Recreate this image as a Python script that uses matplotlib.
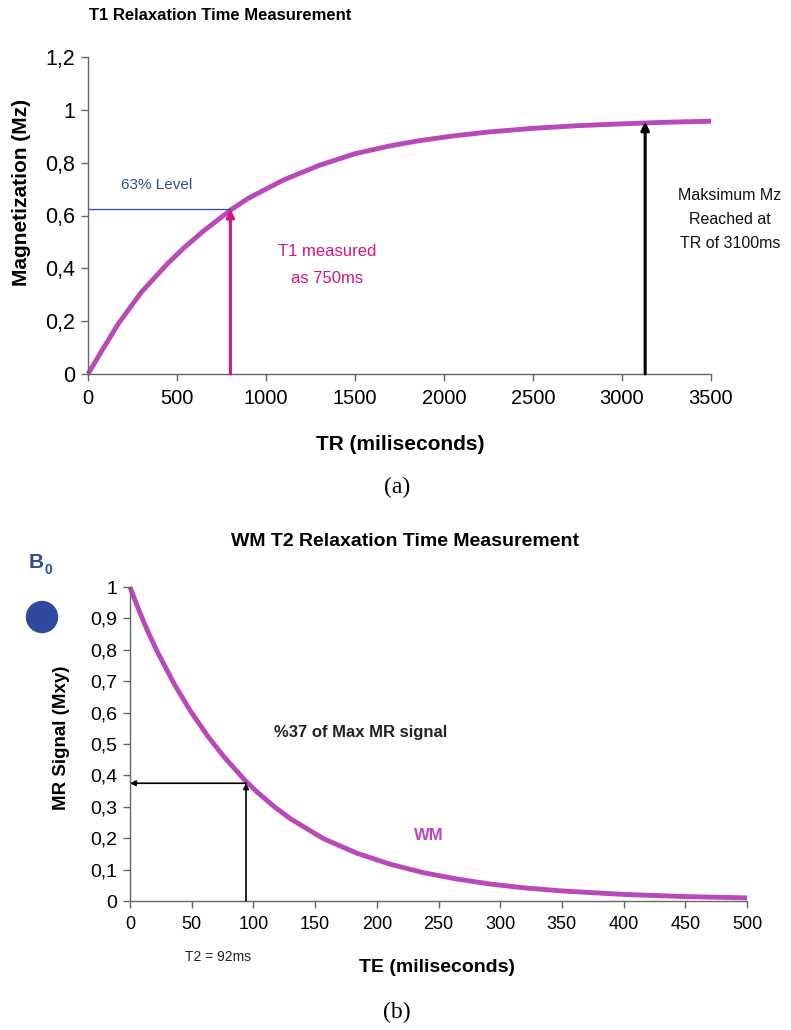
import matplotlib
matplotlib.use("Agg")
import matplotlib.pyplot as plt
from matplotlib.patches import Ellipse
from matplotlib.ticker import FuncFormatter, MultipleLocator

# T1 recovery curve
tr_ms = [0, 75, 170, 300, 450, 540, 650, 800, 900, 1100, 1300, 1500, 1700,
         1850, 2050, 2250, 2500, 2750, 3000, 3250, 3500]
mz = [0.0, 0.085, 0.19, 0.31, 0.42, 0.478, 0.542, 0.62, 0.665, 0.735, 0.79,
      0.834, 0.864, 0.882, 0.901, 0.916, 0.93, 0.94, 0.947, 0.953, 0.957]
t1_level = 0.625
t1_x = 800
max_x = 3130
max_y = 0.955

# T2 decay curve
te_ms = [0, 5, 11, 16, 22, 36, 49, 63, 76, 93, 103, 117, 130, 157, 184, 211,
         238, 265, 292, 319, 350, 400, 450, 500]
mxy = [1.0, 0.948, 0.89, 0.845, 0.795, 0.69, 0.605, 0.525, 0.46, 0.385, 0.347,
       0.30, 0.262, 0.198, 0.152, 0.117, 0.09, 0.07, 0.054, 0.042, 0.032,
       0.021, 0.014, 0.01]
t2_x = 94
t2_level = 0.375

W, H = 791, 1030
curve_c = '#b948b9'
pink = '#d4157f'
blue = '#2f4a9c'
spine_c = '#666666'
sans = ['Liberation Sans', 'DejaVu Sans']
plt.rcParams['font.family'] = sans


def px(x, y):
    return x / W, 1 - y / H


def comma(v, pos):
    return ('%g' % round(v, 2)).replace('.', ',')


def style(ax, xsize, ysize):
    for s in ('top', 'right'):
        ax.spines[s].set_visible(False)
    for s in ('left', 'bottom'):
        ax.spines[s].set_color(spine_c)
        ax.spines[s].set_linewidth(1.0)
    ax.tick_params(direction='out', length=5, width=1, color=spine_c)
    ax.tick_params(axis='x', labelsize=xsize, pad=6)
    ax.tick_params(axis='y', labelsize=ysize, pad=4)
    ax.yaxis.set_major_formatter(FuncFormatter(comma))


fig = plt.figure(figsize=(W / 100, H / 100), dpi=100)

# ---- panel (a)
ax1 = fig.add_axes([88 / W, 1 - 374 / H, 623 / W, 317 / H])
ax1.plot(tr_ms, mz, color=curve_c, lw=3.5, clip_on=False,
         solid_capstyle='butt', solid_joinstyle='round')
ax1.plot([0, t1_x], [t1_level, t1_level], color=blue, lw=0.9)
ax1.annotate('', xy=(t1_x, t1_level), xytext=(t1_x, 0),
             arrowprops=dict(arrowstyle='-|>', color=pink, lw=2.2,
                             mutation_scale=12, shrinkA=0, shrinkB=0))
ax1.annotate('', xy=(max_x, max_y), xytext=(max_x, 0),
             arrowprops=dict(arrowstyle='-|>', color='black', lw=2.2,
                             mutation_scale=12, shrinkA=0, shrinkB=0))
ax1.set_xlim(0, 3500)
ax1.set_ylim(0, 1.2)
ax1.xaxis.set_major_locator(MultipleLocator(500))
ax1.yaxis.set_major_locator(MultipleLocator(0.2))
style(ax1, 14.5, 15.5)

fig.text(*px(220, 16), 'T1 Relaxation Time Measurement', ha='center',
         va='center', fontsize=12, fontweight='bold')
fig.text(*px(22, 192), 'Magnetization (Mz)', rotation=90, ha='center',
         va='center', fontsize=15, fontweight='bold')
fig.text(*px(400, 444), 'TR (miliseconds)', ha='center', va='center',
         fontsize=15, fontweight='bold')
fig.text(*px(157, 185), '63% Level', ha='center', va='center', fontsize=11,
         color=blue)
fig.text(*px(327, 265), 'T1 measured\nas 750ms', ha='center', va='center',
         fontsize=12, color=pink, linespacing=2.0)
fig.text(*px(730, 220), 'Maksimum Mz\nReached at\nTR of 3100ms', ha='center',
         va='center', fontsize=11.5, color='#111111', linespacing=1.75)
fig.text(*px(397, 487), '(a)', ha='center', va='center', fontsize=17,
         family=['Liberation Serif', 'DejaVu Serif'])

# ---- panel (b)
ax2 = fig.add_axes([130 / W, 1 - 901 / H, 617 / W, 314 / H])
ax2.plot(te_ms, mxy, color=curve_c, lw=3.5, clip_on=False,
         solid_capstyle='butt', solid_joinstyle='round')
ax2.annotate('', xy=(t2_x, t2_level), xytext=(t2_x, 0),
             arrowprops=dict(arrowstyle='-|>', color='black', lw=1.2,
                             mutation_scale=8, shrinkA=0, shrinkB=0))
ax2.annotate('', xy=(0, t2_level), xytext=(t2_x, t2_level),
             arrowprops=dict(arrowstyle='-|>', color='black', lw=1.2,
                             mutation_scale=8, shrinkA=0, shrinkB=0))
ax2.set_xlim(0, 500)
ax2.set_ylim(0, 1)
ax2.xaxis.set_major_locator(MultipleLocator(50))
ax2.yaxis.set_major_locator(MultipleLocator(0.1))
style(ax2, 13, 14)

fig.text(*px(405, 541), 'WM T2 Relaxation Time Measurement', ha='center',
         va='center', fontsize=14, fontweight='bold')
fig.text(*px(62, 738), 'MR Signal (Mxy)', rotation=90, ha='center',
         va='center', fontsize=13.5, fontweight='bold')
fig.text(*px(437, 967), 'TE (miliseconds)', ha='center', va='center',
         fontsize=14, fontweight='bold')
fig.text(*px(361, 733), '%37 of Max MR signal', ha='center', va='center',
         fontsize=12, fontweight='bold', color='#222222')
fig.text(*px(429, 836), 'WM', ha='center', va='center', fontsize=12,
         fontweight='bold', color=curve_c)
fig.text(*px(218, 957), 'T2 = 92ms', ha='center', va='center', fontsize=10,
         color='#222222')
fig.text(*px(397, 1012), '(b)', ha='center', va='center', fontsize=17,
         family=['Liberation Serif', 'DejaVu Serif'])

# B0 marker at top-left of panel (b)
fig.text(*px(36, 563), 'B', ha='center', va='center', fontsize=15,
         fontweight='bold', color=blue)
fig.text(*px(48, 570), '0', ha='center', va='center', fontsize=10,
         fontweight='bold', color=blue)
fig.add_artist(Ellipse(px(42, 617), 31 / W, 31 / H, color=blue,
                       transform=fig.transFigure))

fig.savefig('out.png', dpi=100)
